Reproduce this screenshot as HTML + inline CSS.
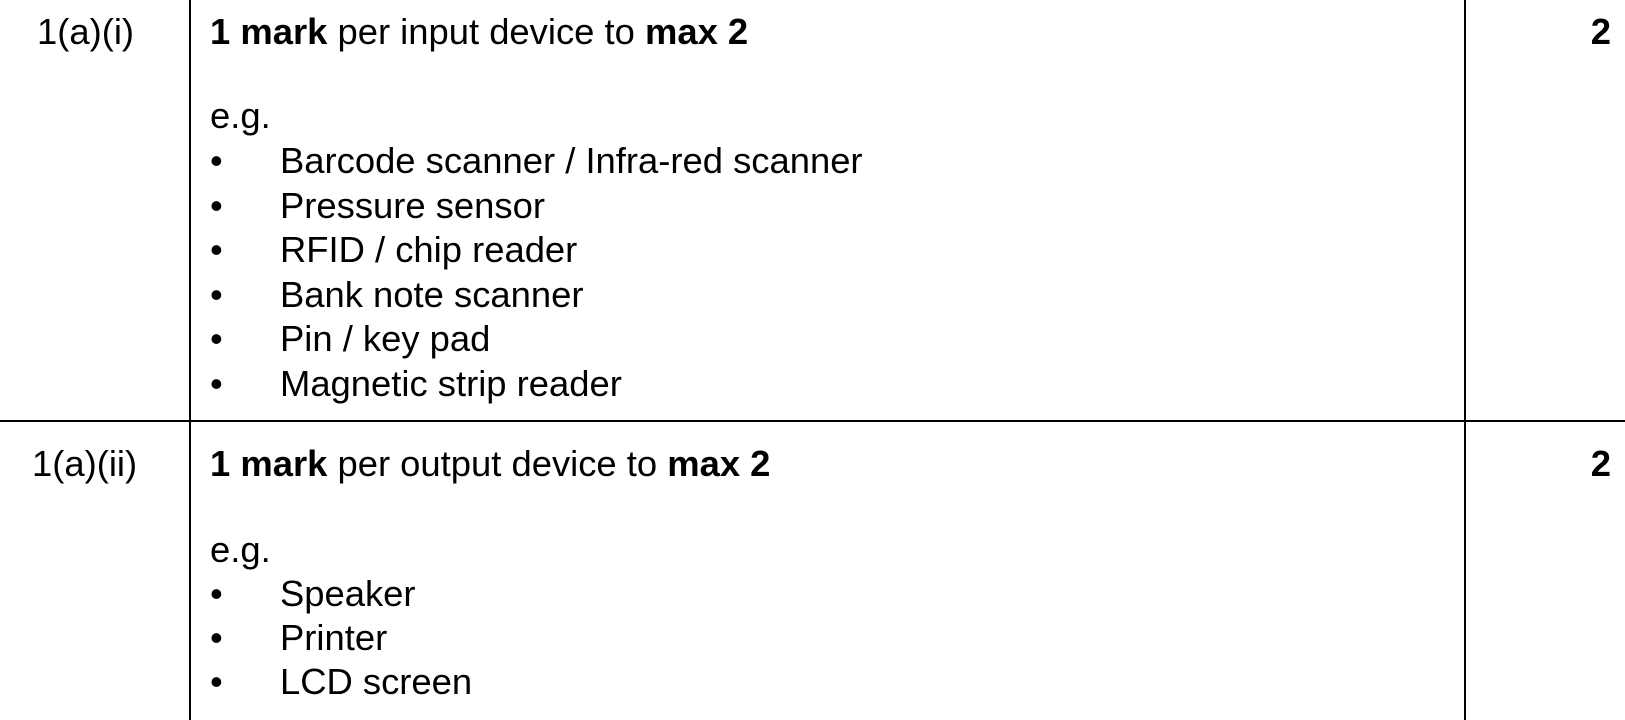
<!DOCTYPE html>
<html><head><meta charset="utf-8"><style>
body{margin:0;width:1625px;height:720px;background:#fff;position:relative;overflow:hidden;font-family:"Liberation Sans",Arial,sans-serif;font-size:36.4px;color:#000}
.l{position:absolute;background:#000}
.t{position:absolute;line-height:44.5px;white-space:nowrap}
.b{position:absolute;line-height:44.5px}
</style></head><body>
<div class="l" style="left:189px;top:0;width:2px;height:720px"></div>
<div class="l" style="left:1464px;top:0;width:2px;height:720px"></div>
<div class="l" style="left:0;top:420px;width:1625px;height:2px"></div>

<div class="t" style="left:37px;top:10px">1(a)(i)</div>
<div class="t" style="left:210px;top:10px"><b>1 mark</b> per input device to <b>max 2</b></div>
<div class="t" style="left:210px;top:94px">e.g.</div>
<div class="b" style="left:210px;top:139px">•<br>•<br>•<br>•<br>•<br>•</div>
<div class="t" style="left:280px;top:139px">Barcode scanner / Infra-red scanner<br>Pressure sensor<br>RFID / chip reader<br>Bank note scanner<br>Pin / key pad<br>Magnetic strip reader</div>
<div class="t" style="right:14px;top:10px"><b>2</b></div>

<div class="t" style="left:32px;top:442px">1(a)(ii)</div>
<div class="t" style="left:210px;top:442px"><b>1 mark</b> per output device to <b>max 2</b></div>
<div class="t" style="left:210px;top:528px">e.g.</div>
<div class="b" style="left:210px;top:572px;line-height:44px">•<br>•<br>•</div>
<div class="t" style="left:280px;top:572px;line-height:44px">Speaker<br>Printer<br>LCD screen</div>
<div class="t" style="right:14px;top:442px"><b>2</b></div>
</body></html>
